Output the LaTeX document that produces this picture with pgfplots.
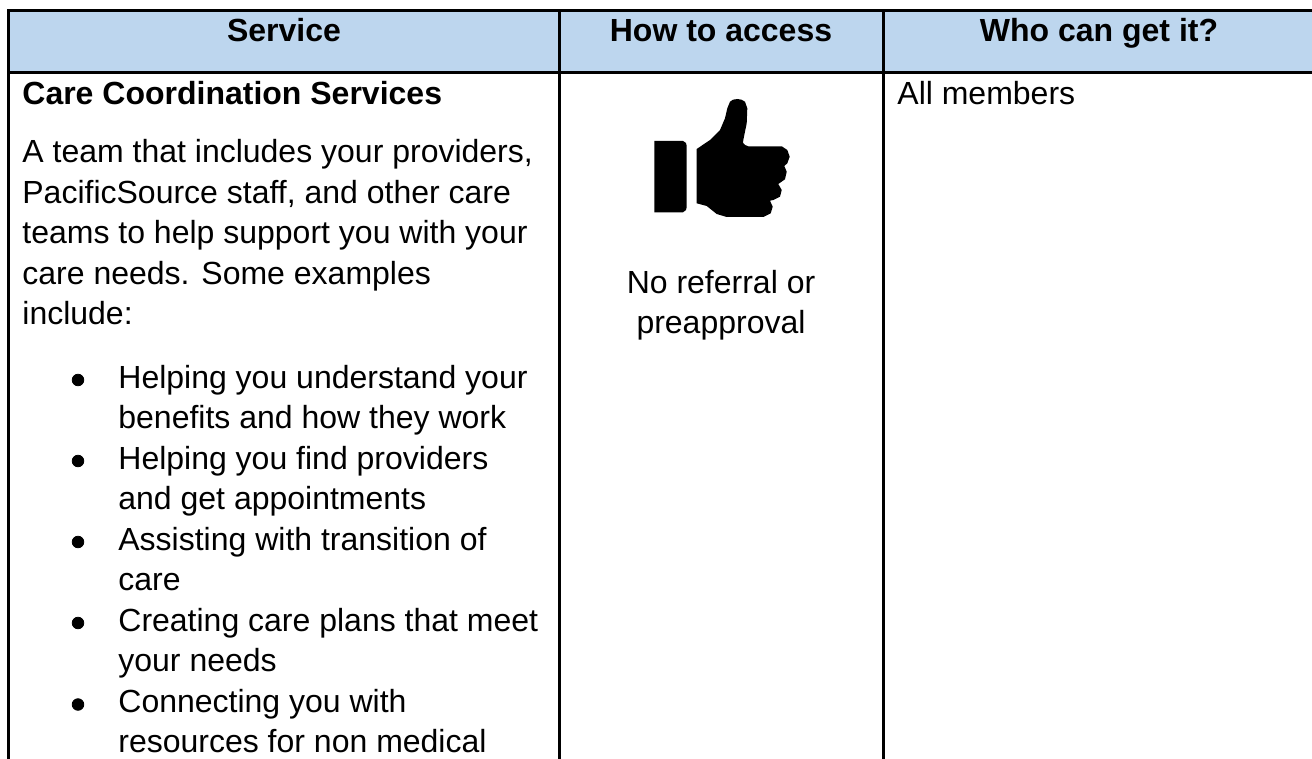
\documentclass[border=0pt]{standalone}
\usepackage{pgfplots}
\pgfplotsset{compat=1.18}
\usepackage{fontspec}
\setmainfont{Liberation Sans}
\definecolor{hdr}{HTML}{BDD6EE}
\newcommand{\fs}{\fontsize{16pt}{19pt}\selectfont}
\newcommand{\T}[3]{\node[anchor=base west,inner sep=0pt,font=\fs] at (axis cs:#1,#2) {#3};}
\begin{document}
\begin{tikzpicture}[x=1pt,y=1pt]
\useasboundingbox (0,0) rectangle (656pt,379.5pt);
\begin{axis}[at={(0,0)},anchor=south west,width=656pt,height=379.5pt,scale only axis,
 xmin=0,xmax=1312,ymin=0,ymax=759,y dir=reverse,hide axis,clip=true]
\addplot[fill=hdr,draw=none] coordinates {(8,11) (1312,11) (1312,73) (8,73)} --cycle;
\addplot[black,line width=1.5pt] coordinates {(8.7,759) (8.7,10.5) (1312,10.5)};
\addplot[black,line width=1.5pt] coordinates {(8,73) (1312,73)};
\addplot[black,line width=1.5pt] coordinates {(559.3,10) (559.3,759)};
\addplot[black,line width=1.5pt] coordinates {(883.3,10) (883.3,759)};
\node[anchor=base,inner sep=0pt,font=\fs\bfseries] at (axis cs:284,42) {Service};
\node[anchor=base,inner sep=0pt,font=\fs\bfseries] at (axis cs:721,42) {How to access};
\node[anchor=base,inner sep=0pt,font=\fs\bfseries] at (axis cs:1099,42) {Who can get it?};
\node[anchor=base west,inner sep=0pt,font=\fs\bfseries] at (axis cs:22,105) {Care Coordination Services};
\T{22}{163}{A team that includes your providers,}
\T{22}{203.5}{PacificSource staff, and other care}
\T{22}{244}{teams to help support you with your}
\T{22}{284.5}{care needs. Some examples}
\T{22}{324.5}{include:}
\T{118}{388}{Helping you understand your}
\T{118}{428.5}{benefits and how they work}
\T{118}{469}{Helping you find providers}
\T{118}{509.5}{and get appointments}
\T{118}{550}{Assisting with transition of}
\T{118}{590.5}{care}
\T{118}{631}{Creating care plans that meet}
\T{118}{671.5}{your needs}
\T{118}{712}{Connecting you with}
\T{118}{752.5}{resources for non medical}
\node[anchor=base,inner sep=0pt,font=\fs] at (axis cs:721,293) {No referral or};
\node[anchor=base,inner sep=0pt,font=\fs] at (axis cs:721,333.5) {preapproval};
\T{897}{105}{All members}
\addplot[only marks,mark=*,mark size=2.9pt,black] coordinates {(78,380) (78,461) (78,542) (78,623) (78,704.5)};
\addplot[fill=black,draw=none] coordinates {(654.3,141) (683,141) (686,143) (686.7,146) (686.7,207) (686,210) (683,212.3) (654.3,212.3)} --cycle;
\addplot[fill=black,draw=none] coordinates {(696.7,149) (710,140) (720,130) (725,118.3) (727.3,108.3) (730,101.7) (733,99.7) (737.3,99) (741.5,99.7) (745,101.7) (747.3,108.3) (746.7,123.3) (743.3,140) (743,143) (745,145) (748.3,146.3) (781.7,146.3) (787.3,150) (789.7,156.7) (787.3,163.3) (784.3,166) (786.7,171.7) (785,179.3) (778.3,184) (781.7,190) (780,196.7) (773.3,200) (770,200.7) (772.7,206.7) (770.7,213.3) (763.3,217) (726.7,217) (716.7,214) (706.7,206) (696.7,203.3)} --cycle;
\end{axis}
\end{tikzpicture}
\end{document}
